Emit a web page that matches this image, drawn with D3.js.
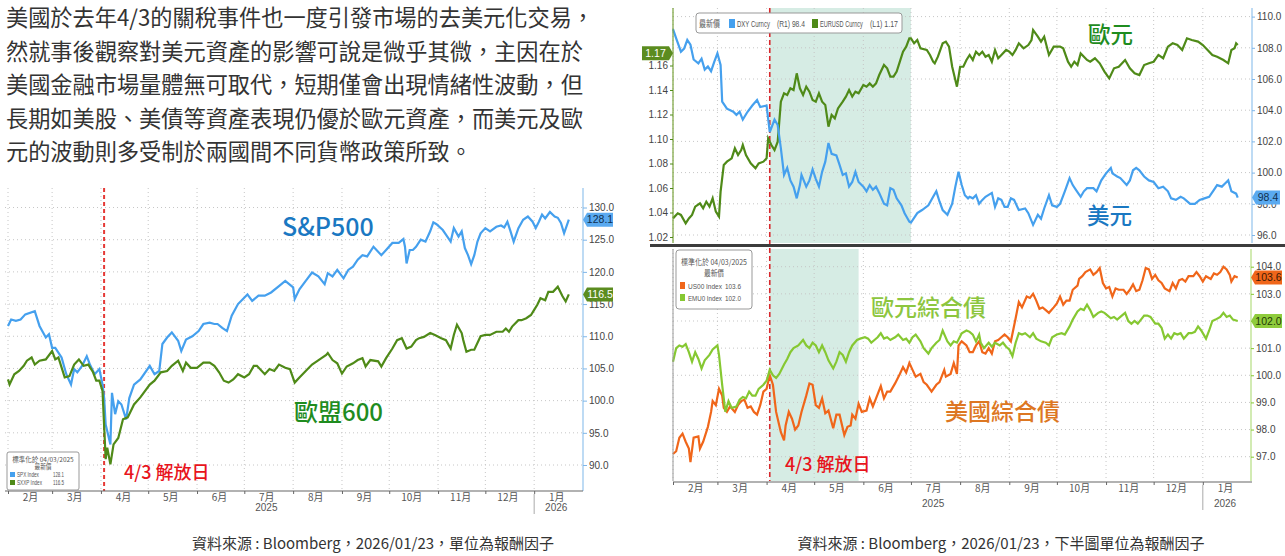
<!DOCTYPE html>
<html>
<head>
<meta charset="utf-8">
<script src="https://cdn.jsdelivr.net/npm/d3@7"></script>
<style>
  body { margin: 0; background: #fff; }
  svg { display: block; }
</style>
</head>
<body>
<svg id="chart" width="1285" height="556"></svg>
<script>
// ---- text ----
const paragraph = [
  "美國於去年4/3的關稅事件也一度引發市場的去美元化交易，",
  "然就事後觀察對美元資產的影響可說是微乎其微，主因在於",
  "美國金融市場量體無可取代，短期僅會出現情緒性波動，但",
  "長期如美股、美債等資產表現仍優於歐元資產，而美元及歐",
  "元的波動則多受制於兩國間不同貨幣政策所致。"
]
const captionLeft = "資料來源 : Bloomberg，2026/01/23，單位為報酬因子"
const captionRight = "資料來源 : Bloomberg，2026/01/23，下半圖單位為報酬因子"

// ---- axes ----
const monthLabels = ["2月","3月","4月","5月","6月","7月","8月","9月","10月","11月","12月","1月"]
const yearLabels = ["2025","2026"]
const yearDates = ["2025-07-15","2026-01-15"]
const eventDate = "2025-04-03"
const shadeTop = ["2025-04-03","2025-07-01"]
const shadeBottom = ["2025-04-03","2025-05-29"]
const stockTicks = [90,95,100,105,110,115,120,125,130]
const dxyTicks = [96,98,100,102,104,106,108,110]
const eurTicks = [1.02,1.04,1.06,1.08,1.10,1.12,1.14,1.16]
const bondTicks = [97,98,99,100,101,102,103,104]

// ---- series ----
const spx = [["2025-02-01",111.6],["2025-02-03",112.6],["2025-02-06",112.4],["2025-02-09",112.6],["2025-02-12",113.4],["2025-02-18",113.9],["2025-02-21",111.6],["2025-02-25",109.8],["2025-02-27",110.3],["2025-03-01",108.2],["2025-03-03",108.2],["2025-03-07",106.7],["2025-03-10",104.1],["2025-03-13",102.5],["2025-03-15",104.9],["2025-03-17",104.4],["2025-03-20",105.4],["2025-03-23",106.9],["2025-03-25",105.6],["2025-03-28",104.1],["2025-03-31",104.9],["2025-04-02",102.5],["2025-04-03",100.5],["2025-04-04",96.3],["2025-04-07",93.2],["2025-04-08",101.2],["2025-04-10",97.9],["2025-04-12",99.9],["2025-04-14",99.4],["2025-04-17",97.1],["2025-04-19",100.4],["2025-04-22",102.5],["2025-04-26",103.3],["2025-05-02",105.4],["2025-05-05",104.1],["2025-05-08",104.6],["2025-05-10",108.8],["2025-05-13",109.8],["2025-05-16",110.6],["2025-05-20",109.3],["2025-05-22",107.7],["2025-05-25",109.5],["2025-05-29",110.0],["2025-06-02",110.8],["2025-06-05",111.9],["2025-06-09",112.1],["2025-06-12",111.9],["2025-06-14",111.9],["2025-06-17",111.3],["2025-06-20",110.8],["2025-06-23",113.2],["2025-06-27",115.0],["2025-07-03",116.5],["2025-07-06",115.5],["2025-07-10",116.3],["2025-07-14",116.3],["2025-07-18",116.8],["2025-07-23",117.8],["2025-07-27",118.6],["2025-08-01",117.6],["2025-08-02",115.8],["2025-08-05",117.3],["2025-08-09",118.6],["2025-08-13",119.9],["2025-08-17",119.3],["2025-08-21",118.1],["2025-08-23",119.8],["2025-08-26",119.3],["2025-08-29",120.3],["2025-09-02",119.0],["2025-09-05",120.3],["2025-09-08",120.8],["2025-09-11",121.9],["2025-09-14",122.6],["2025-09-17",122.4],["2025-09-21",123.9],["2025-09-26",122.6],["2025-09-29",123.4],["2025-10-03",124.5],["2025-10-07",124.5],["2025-10-10",125.1],["2025-10-11",123.9],["2025-10-12",121.3],["2025-10-14",123.4],["2025-10-16",123.4],["2025-10-18",123.9],["2025-10-21",125.0],["2025-10-24",124.7],["2025-10-27",126.3],["2025-10-29",127.7],["2025-10-31",127.4],["2025-11-04",126.5],["2025-11-06",125.8],["2025-11-09",124.7],["2025-11-11",126.8],["2025-11-14",125.5],["2025-11-16",126.3],["2025-11-18",123.7],["2025-11-20",122.6],["2025-11-22",121.2],["2025-11-24",122.6],["2025-11-26",124.7],["2025-11-28",126.0],["2025-12-01",126.8],["2025-12-04",126.3],["2025-12-08",127.0],["2025-12-11",127.2],["2025-12-13",126.9],["2025-12-15",127.8],["2025-12-17",126.3],["2025-12-19",124.7],["2025-12-22",126.8],["2025-12-25",128.1],["2025-12-28",128.6],["2025-12-31",127.8],["2026-01-02",126.8],["2026-01-04",127.8],["2026-01-06",128.9],["2026-01-08",128.3],["2026-01-11",129.3],["2026-01-14",128.6],["2026-01-16",128.4],["2026-01-18",127.6],["2026-01-20",126.0],["2026-01-23",128.1]]

const sxxp = [["2025-02-01",103.3],["2025-02-02",102.5],["2025-02-05",104.1],["2025-02-08",104.6],["2025-02-11",105.4],["2025-02-13",106.2],["2025-02-16",106.7],["2025-02-18",105.6],["2025-02-21",106.2],["2025-02-25",106.4],["2025-03-01",107.7],["2025-03-03",106.4],["2025-03-05",106.7],["2025-03-09",103.6],["2025-03-12",103.8],["2025-03-15",105.6],["2025-03-18",106.4],["2025-03-21",105.4],["2025-03-24",105.6],["2025-03-27",104.4],["2025-03-29",103.1],["2025-03-31",103.1],["2025-04-02",101.5],["2025-04-04",90.9],["2025-04-05",92.7],["2025-04-07",90.1],["2025-04-09",93.2],["2025-04-12",94.2],["2025-04-15",97.1],["2025-04-18",97.4],["2025-04-22",99.4],["2025-04-26",100.5],["2025-05-02",102.5],["2025-05-05",103.1],["2025-05-09",104.4],["2025-05-13",104.6],["2025-05-16",105.4],["2025-05-20",106.2],["2025-05-23",104.6],["2025-05-25",105.9],["2025-05-28",105.1],["2025-06-01",105.1],["2025-06-05",105.9],["2025-06-09",105.9],["2025-06-12",105.4],["2025-06-15",104.4],["2025-06-18",103.1],["2025-06-21",102.8],["2025-06-24",103.3],["2025-06-27",104.1],["2025-07-01",103.6],["2025-07-04",104.1],["2025-07-07",105.4],["2025-07-09",105.4],["2025-07-14",104.1],["2025-07-17",104.9],["2025-07-20",104.6],["2025-07-23",105.6],["2025-07-27",105.1],["2025-07-30",104.9],["2025-08-02",102.8],["2025-08-05",103.6],["2025-08-09",104.6],["2025-08-13",105.6],["2025-08-16",106.1],["2025-08-19",106.6],["2025-08-22",107.1],["2025-08-23",107.4],["2025-08-26",106.3],["2025-08-29",105.8],["2025-09-01",104.2],["2025-09-04",105.3],["2025-09-08",105.8],["2025-09-11",106.3],["2025-09-14",106.6],["2025-09-16",105.3],["2025-09-19",106.3],["2025-09-24",106.1],["2025-09-26",105.3],["2025-09-29",106.6],["2025-10-03",108.1],["2025-10-06",109.4],["2025-10-09",109.7],["2025-10-12",108.1],["2025-10-15",108.4],["2025-10-18",109.4],["2025-10-20",109.7],["2025-10-23",109.9],["2025-10-27",110.5],["2025-10-30",110.2],["2025-11-03",109.7],["2025-11-06",109.4],["2025-11-09",108.1],["2025-11-11",110.2],["2025-11-13",111.8],["2025-11-16",110.5],["2025-11-17",109.4],["2025-11-19",107.6],["2025-11-22",107.9],["2025-11-24",107.9],["2025-11-28",110.0],["2025-12-01",110.2],["2025-12-04",110.2],["2025-12-08",110.7],["2025-12-12",110.7],["2025-12-14",111.2],["2025-12-16",110.7],["2025-12-18",111.5],["2025-12-22",112.5],["2025-12-24",112.5],["2025-12-27",112.8],["2025-12-30",113.3],["2026-01-01",114.1],["2026-01-03",114.9],["2026-01-05",115.9],["2026-01-08",115.6],["2026-01-10",116.9],["2026-01-13",116.9],["2026-01-16",117.7],["2026-01-19",116.2],["2026-01-21",115.4],["2026-01-23",116.5]]

const dxy = [["2025-02-01",109.2],["2025-02-03",108.6],["2025-02-06",107.75],["2025-02-08",107.95],["2025-02-10",108.5],["2025-02-12",108.2],["2025-02-14",107.25],["2025-02-17",107.0],["2025-02-19",107.3],["2025-02-21",106.6],["2025-02-23",106.8],["2025-02-25",106.5],["2025-02-27",107.1],["2025-03-01",107.65],["2025-03-03",106.9],["2025-03-04",104.55],["2025-03-07",104.1],["2025-03-11",103.9],["2025-03-13",103.7],["2025-03-15",103.9],["2025-03-17",103.4],["2025-03-20",103.9],["2025-03-23",104.3],["2025-03-26",104.65],["2025-03-28",104.2],["2025-04-01",104.3],["2025-04-03",102.6],["2025-04-06",103.4],["2025-04-08",103.05],["2025-04-10",101.55],["2025-04-12",99.85],["2025-04-14",100.3],["2025-04-16",99.5],["2025-04-18",99.1],["2025-04-20",98.35],["2025-04-22",99.2],["2025-04-23",99.85],["2025-04-26",99.1],["2025-04-28",99.5],["2025-04-30",100.2],["2025-05-02",99.6],["2025-05-04",99.1],["2025-05-06",100.05],["2025-05-08",100.7],["2025-05-10",101.9],["2025-05-12",101.2],["2025-05-15",101.1],["2025-05-17",100.5],["2025-05-19",99.85],["2025-05-21",99.95],["2025-05-23",99.1],["2025-05-25",99.4],["2025-05-27",100.05],["2025-05-29",99.4],["2025-06-01",99.1],["2025-06-03",98.8],["2025-06-05",99.2],["2025-06-07",98.9],["2025-06-09",99.1],["2025-06-11",98.7],["2025-06-14",98.0],["2025-06-16",97.9],["2025-06-18",99.0],["2025-06-20",98.9],["2025-06-22",98.35],["2025-06-25",97.9],["2025-06-27",97.4],["2025-06-30",96.85],["2025-07-01",96.8],["2025-07-05",97.4],["2025-07-08",97.6],["2025-07-12",97.9],["2025-07-15",98.45],["2025-07-17",98.8],["2025-07-19",98.15],["2025-07-21",97.6],["2025-07-24",97.3],["2025-07-27",98.0],["2025-07-29",99.1],["2025-07-31",100.05],["2025-08-02",99.2],["2025-08-04",98.55],["2025-08-06",98.35],["2025-08-07",98.45],["2025-08-09",98.35],["2025-08-11",98.55],["2025-08-13",98.0],["2025-08-15",98.25],["2025-08-17",98.45],["2025-08-21",98.7],["2025-08-23",97.8],["2025-08-25",98.35],["2025-08-27",98.25],["2025-08-29",97.8],["2025-08-31",97.8],["2025-09-02",98.35],["2025-09-04",98.25],["2025-09-07",97.6],["2025-09-11",97.7],["2025-09-13",97.4],["2025-09-16",96.65],["2025-09-19",97.3],["2025-09-21",97.05],["2025-09-23",97.7],["2025-09-26",98.55],["2025-09-28",97.9],["2025-10-01",97.8],["2025-10-03",98.0],["2025-10-06",98.8],["2025-10-09",99.65],["2025-10-11",99.2],["2025-10-13",98.9],["2025-10-16",98.45],["2025-10-18",98.8],["2025-10-20",99.0],["2025-10-24",99.0],["2025-10-26",98.8],["2025-10-29",99.5],["2025-11-01",99.95],["2025-11-04",100.3],["2025-11-05",99.95],["2025-11-08",99.75],["2025-11-10",99.65],["2025-11-14",99.2],["2025-11-16",99.5],["2025-11-18",100.15],["2025-11-20",100.3],["2025-11-22",100.15],["2025-11-25",99.75],["2025-11-28",99.5],["2025-12-01",99.4],["2025-12-04",99.0],["2025-12-07",99.1],["2025-12-10",98.8],["2025-12-12",98.35],["2025-12-15",98.25],["2025-12-18",98.45],["2025-12-20",98.35],["2025-12-24",98.0],["2025-12-27",98.0],["2025-12-30",98.25],["2026-01-02",98.35],["2026-01-05",98.45],["2026-01-08",98.9],["2026-01-10",99.2],["2026-01-13",99.1],["2026-01-15",99.3],["2026-01-17",99.5],["2026-01-19",98.8],["2026-01-22",98.65],["2026-01-23",98.4]]

const eurusd = [["2025-02-01",1.0352],["2025-02-04",1.0393],["2025-02-06",1.0380],["2025-02-09",1.0312],["2025-02-11",1.0352],["2025-02-13",1.0380],["2025-02-15",1.0448],["2025-02-18",1.0475],["2025-02-20",1.0434],["2025-02-22",1.0488],["2025-02-24",1.0448],["2025-02-26",1.0516],["2025-02-28",1.0407],["2025-03-02",1.0366],["2025-03-03",1.0570],["2025-03-05",1.0788],["2025-03-07",1.0815],["2025-03-10",1.0842],["2025-03-12",1.0924],["2025-03-14",1.0869],["2025-03-16",1.0910],["2025-03-17",1.0951],["2025-03-19",1.0869],["2025-03-22",1.0801],["2025-03-25",1.0761],["2025-03-27",1.0801],["2025-03-30",1.0815],["2025-04-01",1.0842],["2025-04-02",1.1005],["2025-04-04",1.0951],["2025-04-06",1.0910],["2025-04-08",1.0978],["2025-04-10",1.1305],["2025-04-12",1.1373],["2025-04-14",1.1359],["2025-04-16",1.1414],["2025-04-18",1.1400],["2025-04-20",1.1536],["2025-04-22",1.1414],["2025-04-24",1.1359],["2025-04-26",1.1427],["2025-04-28",1.1386],["2025-04-30",1.1318],["2025-05-02",1.1305],["2025-05-04",1.1373],["2025-05-06",1.1305],["2025-05-08",1.1278],["2025-05-10",1.1101],["2025-05-12",1.1196],["2025-05-14",1.1169],["2025-05-16",1.1250],["2025-05-19",1.1305],["2025-05-21",1.1346],["2025-05-23",1.1400],["2025-05-25",1.1346],["2025-05-27",1.1386],["2025-05-29",1.1373],["2025-06-01",1.1441],["2025-06-03",1.1427],["2025-06-05",1.1454],["2025-06-07",1.1427],["2025-06-09",1.1454],["2025-06-11",1.1522],["2025-06-14",1.1604],["2025-06-16",1.1577],["2025-06-18",1.1509],["2025-06-20",1.1509],["2025-06-22",1.1550],["2025-06-24",1.1631],["2025-06-26",1.1713],["2025-06-28",1.1754],["2025-06-30",1.1822],["2025-07-01",1.1822],["2025-07-03",1.1781],["2025-07-05",1.1808],["2025-07-07",1.1740],["2025-07-11",1.1727],["2025-07-13",1.1686],["2025-07-15",1.1631],["2025-07-16",1.1618],["2025-07-18",1.1672],["2025-07-21",1.1781],["2025-07-23",1.1795],["2025-07-25",1.1754],["2025-07-27",1.1590],["2025-07-30",1.1427],["2025-08-01",1.1590],["2025-08-03",1.1590],["2025-08-05",1.1645],["2025-08-07",1.1686],["2025-08-09",1.1645],["2025-08-11",1.1713],["2025-08-13",1.1686],["2025-08-15",1.1713],["2025-08-17",1.1672],["2025-08-19",1.1686],["2025-08-21",1.1631],["2025-08-23",1.1727],["2025-08-25",1.1659],["2025-08-27",1.1686],["2025-08-30",1.1727],["2025-09-01",1.1713],["2025-09-03",1.1686],["2025-09-05",1.1727],["2025-09-07",1.1781],["2025-09-10",1.1740],["2025-09-13",1.1767],["2025-09-15",1.1808],["2025-09-16",1.1890],["2025-09-19",1.1835],["2025-09-21",1.1795],["2025-09-23",1.1835],["2025-09-26",1.1686],["2025-09-29",1.1754],["2025-10-03",1.1754],["2025-10-05",1.1740],["2025-10-08",1.1631],["2025-10-10",1.1590],["2025-10-12",1.1631],["2025-10-14",1.1604],["2025-10-16",1.1699],["2025-10-20",1.1645],["2025-10-22",1.1631],["2025-10-25",1.1659],["2025-10-28",1.1618],["2025-10-31",1.1550],["2025-11-03",1.1495],["2025-11-06",1.1577],["2025-11-09",1.1590],["2025-11-13",1.1645],["2025-11-16",1.1577],["2025-11-19",1.1536],["2025-11-22",1.1522],["2025-11-25",1.1604],["2025-11-28",1.1618],["2025-12-01",1.1631],["2025-12-04",1.1686],["2025-12-07",1.1659],["2025-12-10",1.1754],["2025-12-13",1.1781],["2025-12-16",1.1767],["2025-12-19",1.1727],["2025-12-22",1.1822],["2025-12-25",1.1808],["2025-12-29",1.1795],["2026-01-01",1.1767],["2026-01-04",1.1727],["2026-01-07",1.1686],["2026-01-10",1.1672],["2026-01-14",1.1645],["2026-01-17",1.1618],["2026-01-19",1.1727],["2026-01-21",1.1740],["2026-01-22",1.1781],["2026-01-23",1.1767]]

const us00 = [["2025-02-01",97.1],["2025-02-03",97.2],["2025-02-05",97.7],["2025-02-07",97.85],["2025-02-09",97.55],["2025-02-11",97.3],["2025-02-12",96.8],["2025-02-14",97.7],["2025-02-17",97.75],["2025-02-18",97.3],["2025-02-20",97.55],["2025-02-23",98.1],["2025-02-25",98.65],["2025-02-26",99.05],["2025-02-28",98.9],["2025-03-02",99.5],["2025-03-04",99.25],["2025-03-05",98.8],["2025-03-07",98.65],["2025-03-09",98.85],["2025-03-12",98.65],["2025-03-14",98.9],["2025-03-16",99.05],["2025-03-18",99.1],["2025-03-20",98.8],["2025-03-22",98.85],["2025-03-24",98.65],["2025-03-26",98.55],["2025-03-28",98.9],["2025-03-30",99.4],["2025-04-01",99.5],["2025-04-03",100.0],["2025-04-05",99.65],["2025-04-07",98.65],["2025-04-09",98.15],["2025-04-10",97.9],["2025-04-12",97.6],["2025-04-13",98.15],["2025-04-15",98.65],["2025-04-17",98.4],["2025-04-19",98.0],["2025-04-21",98.15],["2025-04-23",98.65],["2025-04-26",99.25],["2025-04-28",99.7],["2025-04-30",99.65],["2025-05-02",98.9],["2025-05-04",98.8],["2025-05-06",99.15],["2025-05-08",98.6],["2025-05-10",98.7],["2025-05-13",98.05],["2025-05-15",98.55],["2025-05-17",98.55],["2025-05-20",97.8],["2025-05-22",98.1],["2025-05-24",98.15],["2025-05-25",98.55],["2025-05-27",98.4],["2025-05-29",98.95],["2025-05-31",98.65],["2025-06-03",98.7],["2025-06-05",99.15],["2025-06-07",98.85],["2025-06-09",99.15],["2025-06-12",99.6],["2025-06-14",99.15],["2025-06-16",99.4],["2025-06-18",99.4],["2025-06-21",99.7],["2025-06-24",100.05],["2025-06-26",100.3],["2025-06-28",100.1],["2025-06-30",100.45],["2025-07-02",100.2],["2025-07-04",99.95],["2025-07-07",100.05],["2025-07-09",99.75],["2025-07-11",99.65],["2025-07-14",99.4],["2025-07-17",99.65],["2025-07-19",99.75],["2025-07-22",100.2],["2025-07-23",99.95],["2025-07-26",100.05],["2025-07-28",100.45],["2025-07-30",100.05],["2025-07-31",101.1],["2025-08-02",101.25],["2025-08-05",101.1],["2025-08-07",100.85],["2025-08-09",100.85],["2025-08-11",101.1],["2025-08-13",101.25],["2025-08-15",100.85],["2025-08-17",100.8],["2025-08-19",101.0],["2025-08-21",100.8],["2025-08-23",101.25],["2025-08-25",101.3],["2025-08-27",101.4],["2025-08-29",101.5],["2025-08-31",101.4],["2025-09-02",101.25],["2025-09-05",102.1],["2025-09-07",102.7],["2025-09-09",102.5],["2025-09-12",102.9],["2025-09-14",102.85],["2025-09-16",103.0],["2025-09-18",102.75],["2025-09-20",102.45],["2025-09-22",102.5],["2025-09-24",102.4],["2025-09-26",102.3],["2025-09-29",102.5],["2025-10-01",102.65],["2025-10-03",102.9],["2025-10-05",102.6],["2025-10-07",102.75],["2025-10-09",102.75],["2025-10-11",103.15],["2025-10-14",103.3],["2025-10-15",103.55],["2025-10-17",103.65],["2025-10-19",103.8],["2025-10-22",103.9],["2025-10-24",103.7],["2025-10-26",103.8],["2025-10-28",103.95],["2025-10-30",103.4],["2025-11-01",103.2],["2025-11-03",103.25],["2025-11-05",102.9],["2025-11-07",103.2],["2025-11-09",103.15],["2025-11-12",103.15],["2025-11-14",103.0],["2025-11-16",103.15],["2025-11-18",103.35],["2025-11-20",103.1],["2025-11-22",103.15],["2025-11-24",103.5],["2025-11-26",103.95],["2025-11-28",103.9],["2025-11-30",103.55],["2025-12-02",103.7],["2025-12-04",103.5],["2025-12-06",103.4],["2025-12-08",103.2],["2025-12-11",103.1],["2025-12-13",103.4],["2025-12-15",103.2],["2025-12-17",103.5],["2025-12-19",103.55],["2025-12-21",103.45],["2025-12-23",103.65],["2025-12-26",103.65],["2025-12-28",103.8],["2025-12-30",103.65],["2026-01-01",103.45],["2026-01-03",103.65],["2026-01-06",103.55],["2026-01-08",103.75],["2026-01-10",103.7],["2026-01-12",103.8],["2026-01-14",104.0],["2026-01-16",103.9],["2026-01-18",103.7],["2026-01-19",103.45],["2026-01-21",103.65],["2026-01-23",103.6]]

const emu0 = [["2025-02-01",100.5],["2025-02-03",101.0],["2025-02-05",101.1],["2025-02-07",101.05],["2025-02-09",101.15],["2025-02-11",100.85],["2025-02-13",100.5],["2025-02-15",100.85],["2025-02-17",100.6],["2025-02-19",100.25],["2025-02-21",100.55],["2025-02-24",100.75],["2025-02-26",100.95],["2025-03-01",101.1],["2025-03-02",100.75],["2025-03-04",99.65],["2025-03-06",98.65],["2025-03-08",99.05],["2025-03-10",98.8],["2025-03-13",98.85],["2025-03-15",99.1],["2025-03-17",99.2],["2025-03-19",99.15],["2025-03-21",99.4],["2025-03-23",99.25],["2025-03-25",99.25],["2025-03-27",99.5],["2025-03-30",99.65],["2025-04-01",99.8],["2025-04-03",100.2],["2025-04-05",100.0],["2025-04-07",99.9],["2025-04-09",100.05],["2025-04-12",100.4],["2025-04-14",100.6],["2025-04-16",100.85],["2025-04-18",101.0],["2025-04-21",101.1],["2025-04-24",101.3],["2025-04-26",101.1],["2025-04-28",101.0],["2025-04-30",101.2],["2025-05-02",101.1],["2025-05-04",100.85],["2025-05-06",101.1],["2025-05-08",100.85],["2025-05-10",100.55],["2025-05-13",100.25],["2025-05-15",100.5],["2025-05-17",100.85],["2025-05-19",100.75],["2025-05-21",100.5],["2025-05-23",100.85],["2025-05-25",101.1],["2025-05-28",101.3],["2025-05-30",101.35],["2025-06-02",101.4],["2025-06-04",101.35],["2025-06-06",101.2],["2025-06-08",101.3],["2025-06-10",101.4],["2025-06-12",101.55],["2025-06-14",101.35],["2025-06-16",101.4],["2025-06-18",101.3],["2025-06-21",101.4],["2025-06-23",101.5],["2025-06-26",101.3],["2025-06-28",101.35],["2025-06-30",101.2],["2025-07-02",101.4],["2025-07-04",101.5],["2025-07-07",101.25],["2025-07-09",101.0],["2025-07-12",100.8],["2025-07-14",101.0],["2025-07-17",101.2],["2025-07-19",101.3],["2025-07-21",101.65],["2025-07-24",101.25],["2025-07-26",101.1],["2025-07-28",101.25],["2025-07-30",101.2],["2025-08-02",101.55],["2025-08-05",101.65],["2025-08-07",101.6],["2025-08-09",101.5],["2025-08-11",101.25],["2025-08-13",101.5],["2025-08-14",101.2],["2025-08-16",101.0],["2025-08-19",101.2],["2025-08-21",101.05],["2025-08-23",101.2],["2025-08-26",101.1],["2025-08-28",101.2],["2025-08-30",101.05],["2025-09-01",100.95],["2025-09-03",100.7],["2025-09-05",101.2],["2025-09-07",101.55],["2025-09-09",101.5],["2025-09-11",101.55],["2025-09-14",101.4],["2025-09-16",101.55],["2025-09-18",101.35],["2025-09-21",101.25],["2025-09-24",101.2],["2025-09-26",101.1],["2025-09-28",101.4],["2025-10-01",101.5],["2025-10-04",101.55],["2025-10-06",101.5],["2025-10-09",101.8],["2025-10-11",102.05],["2025-10-14",102.35],["2025-10-16",102.45],["2025-10-18",102.4],["2025-10-20",102.6],["2025-10-22",102.4],["2025-10-24",102.15],["2025-10-27",102.3],["2025-10-29",102.35],["2025-10-31",102.3],["2025-11-02",102.2],["2025-11-04",102.1],["2025-11-06",102.15],["2025-11-08",102.05],["2025-11-10",102.15],["2025-11-13",102.3],["2025-11-15",102.0],["2025-11-17",101.9],["2025-11-19",102.0],["2025-11-21",101.9],["2025-11-23",102.05],["2025-11-25",102.2],["2025-11-27",102.2],["2025-11-29",102.15],["2025-12-02",101.9],["2025-12-04",101.9],["2025-12-06",101.75],["2025-12-08",101.35],["2025-12-10",101.5],["2025-12-12",101.35],["2025-12-14",101.55],["2025-12-16",101.5],["2025-12-18",101.55],["2025-12-20",101.35],["2025-12-23",101.55],["2025-12-25",101.55],["2025-12-27",101.6],["2025-12-29",101.8],["2025-12-31",101.65],["2026-01-03",101.35],["2026-01-05",101.65],["2026-01-07",102.0],["2026-01-09",102.05],["2026-01-12",102.15],["2026-01-14",102.3],["2026-01-16",102.15],["2026-01-18",102.2],["2026-01-20",102.05],["2026-01-23",102.0]]

// ---- drawing ----
const parse = d3.timeParse("%Y-%m-%d")
const start = parse("2025-02-01")
const end = parse("2026-02-01")
const months = d3.timeMonth.range(start, end)
const mids = months.map(m => d3.timeDay.offset(m, 14))

const CJK = '"Noto Sans CJK TC", "Noto Sans", sans-serif'
const NUM = '"Liberation Sans Narrow", "Liberation Sans", Arial, sans-serif'
const GRID = "#c6c6c6"

const cBlue = "#45a0ee", cGreen = "#4f8a18", cOrange = "#f0661a", cLime = "#86c832"

const svg = d3.select("#chart")

svg.append("g").selectAll("text").data(paragraph).join("text")
  .attr("x", 6)
  .attr("y", (d, i) => 26 + i * 33.5)
  .attr("font-family", CJK)
  .attr("font-size", 22.2)
  .attr("fill", "#333")
  .text(d => d)

function lineOf(x, y) {
  return d3.line().x(d => x(parse(d[0]))).y(d => y(d[1]))
}

function hGrid(g, ticks, y, x0, x1) {
  g.append("g").selectAll("line").data(ticks).join("line")
    .attr("x1", x0).attr("x2", x1)
    .attr("y1", d => y(d)).attr("y2", d => y(d))
    .attr("stroke", GRID).attr("stroke-dasharray", "1,3")
}

function vGrid(g, x, y0, y1) {
  g.append("g").selectAll("line").data(months).join("line")
    .attr("x1", d => x(d)).attr("x2", d => x(d))
    .attr("y1", y0).attr("y2", y1)
    .attr("stroke", GRID).attr("stroke-dasharray", "1,3")
}

function styleAxis(g, tickColor) {
  g.select(".domain").remove()
  g.selectAll(".tick line").attr("stroke", tickColor)
  g.selectAll("text").attr("font-family", NUM).attr("font-size", 10).attr("fill", "#444")
}

function monthAxis(g, x, y0, x0, x1, yearY) {
  g.append("line").attr("x1", x0).attr("x2", x1).attr("y1", y0).attr("y2", y0)
    .attr("stroke", "#666").attr("stroke-width", 1.2)
  const ticks = g.append("g").attr("transform", `translate(0,${y0})`)
    .call(d3.axisBottom(x).tickValues(months).tickSize(3).tickFormat(""))
  ticks.select(".domain").remove()
  ticks.selectAll(".tick line").attr("stroke", "#666")
  const labels = g.append("g").attr("transform", `translate(0,${y0})`)
    .call(d3.axisBottom(x).tickValues(mids).tickSize(0).tickPadding(3).tickFormat((d, i) => monthLabels[i]))
  labels.select(".domain").remove()
  labels.selectAll("text").attr("font-family", CJK).attr("font-size", 10).attr("fill", "#555")
  g.append("g").selectAll("text").data(yearLabels).join("text")
    .attr("x", (d, i) => x(parse(yearDates[i])))
    .attr("y", yearY)
    .attr("text-anchor", "middle")
    .attr("font-family", NUM).attr("font-size", 10).attr("fill", "#555")
    .text(d => d)
  const jan = parse("2026-01-01")
  g.append("line").attr("x1", x(jan)).attr("x2", x(jan)).attr("y1", y0 + 3).attr("y2", yearY + 3)
    .attr("stroke", "#aaa")
}

function tag(g, x, y, txt, bg, fg, dir, w) {
  const h = 14, a = 4
  const s = dir === "right" ? 1 : -1
  const p = [[x, y], [x + s * a, y - h / 2], [x + s * (a + w), y - h / 2], [x + s * (a + w), y + h / 2], [x + s * a, y + h / 2]]
  g.append("path").attr("d", d3.line()(p) + "Z").attr("fill", bg)
  g.append("text").attr("x", x + s * (a + w / 2)).attr("y", y + 3.6)
    .attr("text-anchor", "middle").attr("font-family", NUM).attr("font-size", 10.5)
    .attr("fill", fg).text(txt)
}

function label(g, x, y, txt, color, size) {
  g.append("text").attr("x", x).attr("y", y).attr("font-family", CJK)
    .attr("font-size", size).attr("font-weight", 500).attr("fill", color).text(txt)
}

// small condensed legend text, squeezed horizontally into the width it has in the picture
function small(g, x, y, txt, w, size, family, anchor) {
  const t = g.append("text")
    .attr("font-family", family || NUM).attr("font-size", size).attr("fill", "#555")
    .text(txt)
  const natural = t.node().getComputedTextLength() || w
  const sx = Math.min(1, w / natural)
  const x0 = anchor === "middle" ? x - natural * sx / 2 : x
  t.attr("transform", `translate(${x0},${y}) scale(${sx},1)`)
}

// ===== left chart =====
const xL = d3.scaleTime().domain([start, end]).range([8, 583])
const yL = d3.scaleLinear().domain([90, 130]).range([465, 207.5])
const L = svg.append("g")

hGrid(L, stockTicks, yL, 5, 583)
vGrid(L, xL, 188, 491)

L.append("line").attr("x1", xL(parse(eventDate))).attr("x2", xL(parse(eventDate)))
  .attr("y1", 188).attr("y2", 491)
  .attr("stroke", "#e53935").attr("stroke-width", 2).attr("stroke-dasharray", "4,3")

L.append("path").datum(spx).attr("d", lineOf(xL, yL))
  .attr("fill", "none").attr("stroke", cBlue).attr("stroke-width", 2.2)
L.append("path").datum(sxxp).attr("d", lineOf(xL, yL))
  .attr("fill", "none").attr("stroke", cGreen).attr("stroke-width", 2.2)

L.append("line").attr("x1", 583).attr("x2", 583).attr("y1", 188).attr("y2", 491)
  .attr("stroke", "#a9cff0").attr("stroke-width", 1.5)
const axL = L.append("g").attr("transform", "translate(583,0)")
  .call(d3.axisRight(yL).tickValues(stockTicks).tickFormat(d3.format(".1f")).tickSize(4).tickPadding(2))
styleAxis(axL, "#7fb6e8")

monthAxis(L, xL, 491, 5, 583, 511)

tag(L, 583, yL(128.1), "128.1", "#5aaaf0", "#10304f", "right", 26)
tag(L, 583, yL(116.5), "116.5", "#5b8c1f", "#fff", "right", 26)

label(L, 282, 236, "S&P500", "#1a78c2", 25)
label(L, 294, 421, "歐盟600", "#1f8c1f", 24)
label(L, 124, 479, "4/3 解放日", "#e8141c", 18)

// left legend
L.append("rect").attr("x", 7).attr("y", 452).attr("width", 72).attr("height", 38)
  .attr("rx", 2).attr("fill", "#fff").attr("stroke", "#999")
small(L, 43, 462, "標準化於 04/03/2025", 62, 6.5, CJK, "middle")
small(L, 43, 469, "最新價", 17, 6.5, CJK, "middle")
const legL = [["SPX Index", "128.1", cBlue], ["SXXP Index", "116.5", cGreen]]
legL.forEach((d, i) => {
  L.append("rect").attr("x", 10).attr("y", 472 + i * 8).attr("width", 5).attr("height", 5).attr("fill", d[2])
  small(L, 17, 477 + i * 8, d[0], 22 + i * 3, 6.5)
  small(L, 53, 477 + i * 8, d[1], 11, 6.5)
})

// ===== right chart =====
const xR = d3.scaleTime().domain([start, end]).range([673, 1252])
const yDxy = d3.scaleLinear().domain([96, 110]).range([235, 16.6])
const yEur = d3.scaleLinear().domain([1.02, 1.16]).range([237, 65.5])
const yBond = d3.scaleLinear().domain([97, 104]).range([456.7, 266.7])
const R = svg.append("g")

// shaded windows
R.append("rect").attr("x", xR(parse(shadeTop[0]))).attr("y", 8)
  .attr("width", xR(parse(shadeTop[1])) - xR(parse(shadeTop[0]))).attr("height", 235)
  .attr("fill", "#d6ece4")
R.append("rect").attr("x", xR(parse(shadeBottom[0]))).attr("y", 249)
  .attr("width", xR(parse(shadeBottom[1])) - xR(parse(shadeBottom[0]))).attr("height", 232)
  .attr("fill", "#d6ece4")

hGrid(R, dxyTicks, yDxy, 673, 1252)
vGrid(R, xR, 8, 243)
hGrid(R, bondTicks, yBond, 673, 1251)
vGrid(R, xR, 249, 481)

R.append("line").attr("x1", xR(parse(eventDate))).attr("x2", xR(parse(eventDate)))
  .attr("y1", 8).attr("y2", 481)
  .attr("stroke", "#d8282d").attr("stroke-width", 1.6).attr("stroke-dasharray", "5,3")

R.append("path").datum(eurusd).attr("d", lineOf(xR, yEur))
  .attr("fill", "none").attr("stroke", cGreen).attr("stroke-width", 2.2)
R.append("path").datum(dxy).attr("d", lineOf(xR, yDxy))
  .attr("fill", "none").attr("stroke", cBlue).attr("stroke-width", 2.2)
R.append("path").datum(us00).attr("d", lineOf(xR, yBond))
  .attr("fill", "none").attr("stroke", cOrange).attr("stroke-width", 2.2)
R.append("path").datum(emu0).attr("d", lineOf(xR, yBond))
  .attr("fill", "none").attr("stroke", cLime).attr("stroke-width", 2.2)

// axes lines
R.append("line").attr("x1", 673).attr("x2", 673).attr("y1", 8).attr("y2", 243)
  .attr("stroke", "#7aa33c").attr("stroke-width", 1.2)
R.append("line").attr("x1", 1252).attr("x2", 1252).attr("y1", 8).attr("y2", 243)
  .attr("stroke", "#a9cff0").attr("stroke-width", 1.5)
R.append("line").attr("x1", 673).attr("x2", 673).attr("y1", 249).attr("y2", 481)
  .attr("stroke", "#999")
R.append("line").attr("x1", 1251).attr("x2", 1251).attr("y1", 249).attr("y2", 481)
  .attr("stroke", "#c3e59a").attr("stroke-width", 1.5)

const axEur = R.append("g").attr("transform", "translate(673,0)")
  .call(d3.axisLeft(yEur).tickValues(eurTicks).tickFormat(d3.format(".2f")).tickSize(3).tickPadding(2))
styleAxis(axEur, "#4f8a18")
const axDxy = R.append("g").attr("transform", "translate(1252,0)")
  .call(d3.axisRight(yDxy).tickValues(dxyTicks).tickFormat(d3.format(".1f")).tickSize(3).tickPadding(2))
styleAxis(axDxy, "#7fb6e8")
const axBond = R.append("g").attr("transform", "translate(1251,0)")
  .call(d3.axisRight(yBond).tickValues(bondTicks).tickFormat(d3.format(".1f")).tickSize(3).tickPadding(2))
styleAxis(axBond, "#86c832")

// panel separator
R.append("line").attr("x1", 650).attr("x2", 1285).attr("y1", 245.5).attr("y2", 245.5)
  .attr("stroke", "#3c3c3c").attr("stroke-width", 3)

monthAxis(R, xR, 482, 673, 1252, 507)

tag(R, 673, yEur(1.17), "1.17", "#5b8c1f", "#fff", "left", 27)
tag(R, 1252, yDxy(98.4), "98.4", "#5aaaf0", "#10304f", "right", 24)
tag(R, 1251, yBond(103.6), "103.6", "#f0661a", "#3a1a05", "right", 27)
tag(R, 1251, yBond(102.0), "102.0", "#8fcc3c", "#1f3a05", "right", 27)

label(R, 1088, 43, "歐元", "#1f8c1f", 22.5)
label(R, 1087, 224, "美元", "#1a78c2", 22.5)
label(R, 871, 316, "歐元綜合債", "#8dc63f", 23)
label(R, 945, 420, "美國綜合債", "#dd7722", 23)
label(R, 785, 471, "4/3 解放日", "#e8141c", 18)

// top legend
R.append("rect").attr("x", 696).attr("y", 13).attr("width", 206).attr("height", 20)
  .attr("rx", 3).attr("fill", "#fff").attr("stroke", "#999")
small(R, 699, 27, "最新價", 21, 9, CJK)
R.append("rect").attr("x", 729).attr("y", 19).attr("width", 6).attr("height", 9).attr("fill", cBlue)
small(R, 737, 27, "DXY Curncy", 33, 9)
small(R, 777, 27, "(R1) 98.4", 28, 9)
R.append("rect").attr("x", 812).attr("y", 19).attr("width", 6).attr("height", 9).attr("fill", cGreen)
small(R, 820, 27, "EURUSD Curncy", 43, 9)
small(R, 870, 27, "(L1) 1.17", 28, 9)

// bottom legend
R.append("rect").attr("x", 676).attr("y", 250).attr("width", 76).attr("height", 59)
  .attr("rx", 3).attr("fill", "#fff").attr("stroke", "#999")
small(R, 714, 265, "標準化於 04/03/2025", 66, 8, CJK, "middle")
small(R, 714, 276, "最新價", 20, 8, CJK, "middle")
const legBot = [["US00 Index", "103.6", cOrange], ["EMU0 Index", "102.0", cLime]]
legBot.forEach((d, i) => {
  R.append("rect").attr("x", 680).attr("y", 282 + i * 12).attr("width", 5).attr("height", 7).attr("fill", d[2])
  small(R, 688, 289 + i * 12, d[0], 34, 8)
  small(R, 725, 289 + i * 12, d[1], 16, 8)
})

// captions
svg.append("text").attr("x", 373).attr("y", 549).attr("text-anchor", "middle")
  .attr("font-family", CJK).attr("font-size", 15).attr("fill", "#333").text(captionLeft)
svg.append("text").attr("x", 1001).attr("y", 549).attr("text-anchor", "middle")
  .attr("font-family", CJK).attr("font-size", 15).attr("fill", "#333").text(captionRight)
</script>
</body>
</html>
